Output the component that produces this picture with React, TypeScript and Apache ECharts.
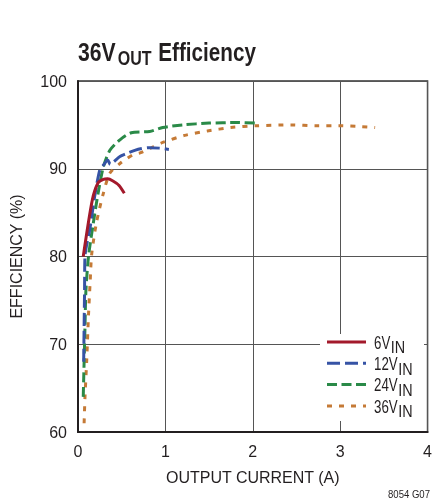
import React, { useEffect, useRef } from "react";
import * as echarts from "echarts";

const FONT = "'Liberation Sans', Arial, Helvetica, sans-serif";
const INK = "#231f20";

const xTicks = [0, 1, 2, 3, 4];
const yTicks = [60, 70, 80, 90, 100];

const seriesNames = ["6V", "12V", "24V", "36V"];
const legendSub = "IN";

const current6 = [0.06, 0.163, 0.23, 0.29, 0.34, 0.4, 0.47, 0.53];
const eff6 = [80.0, 86.4, 88.4, 88.8, 88.85, 88.6, 88.1, 87.2];

const current12 = [0.065, 0.07, 0.075, 0.08, 0.14, 0.19, 0.25, 0.29, 0.34, 0.37, 0.41, 0.48, 0.55, 0.65, 0.73, 0.82, 0.93, 1.04];
const eff12 = [68, 72, 76, 80, 83.4, 86.8, 89.9, 90.4, 91.0, 90.5, 90.8, 91.4, 91.7, 92.1, 92.3, 92.4, 92.35, 92.2];

const current24 = [0.06, 0.07, 0.08, 0.09, 0.12, 0.175, 0.23, 0.29, 0.365, 0.48, 0.61, 0.82, 0.97, 1.2, 1.5, 1.81, 2.04];
const eff24 = [64, 68, 72, 76, 80, 83.8, 87.2, 90.2, 92.1, 93.3, 94.1, 94.25, 94.7, 95.0, 95.2, 95.27, 95.2];

const current36 = [0.07, 0.08, 0.1, 0.12, 0.14, 0.156, 0.21, 0.29, 0.365, 0.48, 0.63, 0.71, 0.86, 0.97, 1.22, 1.48, 1.75, 2.04, 2.44, 2.72, 2.99, 3.25, 3.4];
const eff36 = [61, 64, 68.2, 73.3, 77.3, 80.2, 83.8, 87.2, 89.5, 90.6, 91.6, 91.8, 92.5, 93.0, 93.8, 94.3, 94.7, 94.9, 95.0, 94.9, 94.9, 94.8, 94.7];

const colors = ["#a3192b", "#3653a5", "#2a8a48", "#c57a36"];
const dashes: (number[] | "solid")[] = ["solid", [13, 5], [10, 4.5], [5, 7]];

const zip = (xs: number[], ys: number[]) => xs.map((x, i) => [x, ys[i]]);

function measure(text: string, font: string): number {
  const ctx = document.createElement("canvas").getContext("2d");
  if (!ctx) return text.length * 9;
  ctx.font = font;
  return ctx.measureText(text).width;
}

export default function App() {
  const ref = useRef<HTMLDivElement>(null);
  useEffect(() => {
    if (!ref.current) return;
    const chart = echarts.init(ref.current, null, { renderer: "svg" });
    const datas = [zip(current6, eff6), zip(current12, eff12), zip(current24, eff24), zip(current36, eff36)];

    const legendTop = 342;
    const legendStep = 21.3;
    const mainFont = `18px ${FONT}`;
    const subFont = `16px ${FONT}`;
    const mainScale = 0.74;
    const subScale = 0.9;
    const legendGraphics: any[] = [
      { type: "rect", shape: { x: 320, y: 334, width: 104, height: 87 }, style: { fill: "#fff" }, z: 10 },
    ];
    seriesNames.forEach((n, i) => {
      const y = legendTop + i * legendStep;
      const w = measure(n, mainFont) * mainScale;
      legendGraphics.push({
        type: "line",
        z: 11,
        shape: { x1: 327, y1: y, x2: 366, y2: y },
        style: { stroke: colors[i], lineWidth: 3, lineDash: dashes[i] === "solid" ? null : dashes[i] },
      });
      legendGraphics.push({
        type: "text",
        z: 11,
        x: 374,
        y: y + 0.5,
        scaleX: mainScale,
        style: { text: n, font: mainFont, fill: INK, verticalAlign: "middle" },
      });
      legendGraphics.push({
        type: "text",
        z: 11,
        x: 374 + w + 0.5,
        y: y + 5.5,
        scaleX: subScale,
        style: { text: legendSub, font: subFont, fill: INK, verticalAlign: "middle" },
      });
    });

    chart.setOption({
      animation: false,
      textStyle: { fontFamily: FONT },
      grid: { left: 78, right: 6, top: 81, bottom: 68, show: true, borderColor: "#333", borderWidth: 1.5 },
      xAxis: {
        type: "value",
        min: xTicks[0],
        max: xTicks[xTicks.length - 1],
        interval: 1,
        name: "OUTPUT CURRENT (A)",
        nameLocation: "middle",
        nameGap: 37,
        nameTextStyle: { fontFamily: FONT, fontSize: 16, color: INK },
        axisLine: { lineStyle: { color: INK, width: 2 } },
        axisTick: { show: false },
        axisLabel: { fontFamily: FONT, fontSize: 16, color: INK, margin: 11 },
        splitLine: { lineStyle: { color: "#555", width: 1 } },
      },
      yAxis: {
        type: "value",
        min: yTicks[0],
        max: yTicks[yTicks.length - 1],
        interval: 10,
        name: "EFFICIENCY (%)",
        nameLocation: "middle",
        nameGap: 54,
        nameTextStyle: { fontFamily: FONT, fontSize: 16, color: INK },
        axisLine: { show: true, lineStyle: { color: INK, width: 2 } },
        axisTick: { show: false },
        axisLabel: { fontFamily: FONT, fontSize: 16, color: INK, margin: 11 },
        splitLine: { lineStyle: { color: "#555", width: 1 } },
      },
      graphic: [
        { type: "text", x: 78, y: 51.2, scaleX: 0.8, style: { text: "36V", font: `bold 26.5px ${FONT}`, fill: INK, verticalAlign: "middle" } },
        { type: "text", x: 117.7, y: 58.8, scaleX: 0.8, style: { text: "OUT", font: `bold 20px ${FONT}`, fill: INK, verticalAlign: "middle" } },
        { type: "text", x: 158.3, y: 51.2, scaleX: 0.78, style: { text: "Efficiency", font: `bold 26.5px ${FONT}`, fill: INK, verticalAlign: "middle" } },
        { type: "text", x: 388, y: 494, scaleX: 0.87, style: { text: "8054 G07", font: `11px ${FONT}`, fill: INK, verticalAlign: "middle" } },
        ...legendGraphics,
      ],
      series: seriesNames.map((n, i) => ({
        name: n,
        type: "line",
        data: datas[i],
        showSymbol: false,
        symbol: "none",
        smooth: 0.25,
        z: 4 - i,
        lineStyle: { color: colors[i], width: 3, type: dashes[i] },
        itemStyle: { color: colors[i] },
      })),
    });
    return () => chart.dispose();
  }, []);
  return <div ref={ref} style={{ position: "fixed", left: 0, top: 0, width: 435, height: 500 }} />;
}
